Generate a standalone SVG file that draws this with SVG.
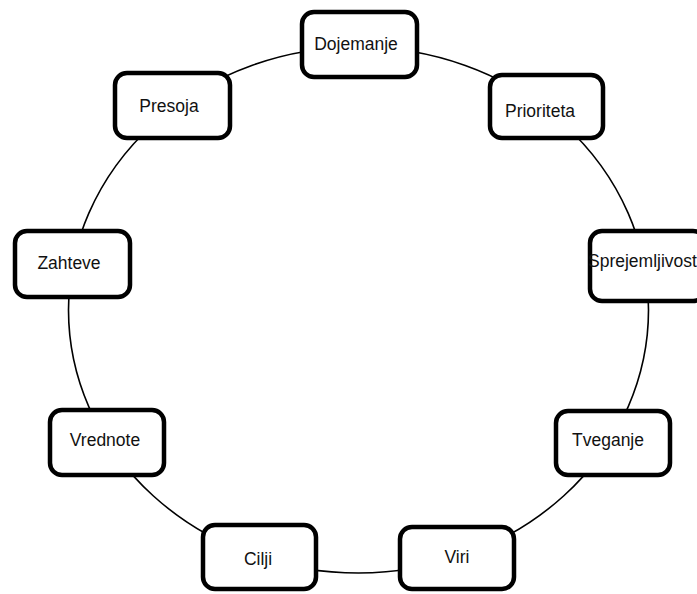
<svg xmlns="http://www.w3.org/2000/svg" width="697" height="594" viewBox="0 0 697 594">
<style>
.box{fill:#fff;stroke:#000;stroke-width:4.5}
.lbl{font-family:"Liberation Sans",Arial,sans-serif;font-size:17.5px;fill:#111;text-anchor:middle}
.conn{fill:none;stroke:#000;stroke-width:1.6}
</style>
<rect width="697" height="594" fill="#fff"/>
<g id="connectors">
<ellipse class="conn" cx="358.5" cy="310" rx="290" ry="263"/>
</g>
<g id="dojemanje"><rect class="box" x="302" y="12" width="115" height="65" rx="12"/><text class="lbl" x="356" y="50">Dojemanje</text></g>
<g id="prioriteta"><rect class="box" x="490" y="75" width="113" height="63" rx="12"/><text class="lbl" x="540" y="117">Prioriteta</text></g>
<g id="sprejemljivost"><rect class="box" x="590" y="231" width="115" height="70" rx="12"/><text class="lbl" x="588" y="267" style="text-anchor:start">Sprejemljivost</text></g>
<g id="tveganje"><rect class="box" x="556" y="411" width="114" height="64" rx="12"/><text class="lbl" x="608" y="446">Tveganje</text></g>
<g id="viri"><rect class="box" x="400" y="527" width="114" height="62" rx="12"/><text class="lbl" x="457" y="563">Viri</text></g>
<g id="cilji"><rect class="box" x="203" y="525" width="113" height="64" rx="12"/><text class="lbl" x="258" y="565">Cilji</text></g>
<g id="vrednote"><rect class="box" x="50" y="410" width="114" height="65" rx="12"/><text class="lbl" x="105" y="446">Vrednote</text></g>
<g id="zahteve"><rect class="box" x="15" y="231" width="115" height="66" rx="12"/><text class="lbl" x="69" y="269">Zahteve</text></g>
<g id="presoja"><rect class="box" x="115" y="73" width="115" height="65" rx="12"/><text class="lbl" x="169" y="112">Presoja</text></g>
</svg>
